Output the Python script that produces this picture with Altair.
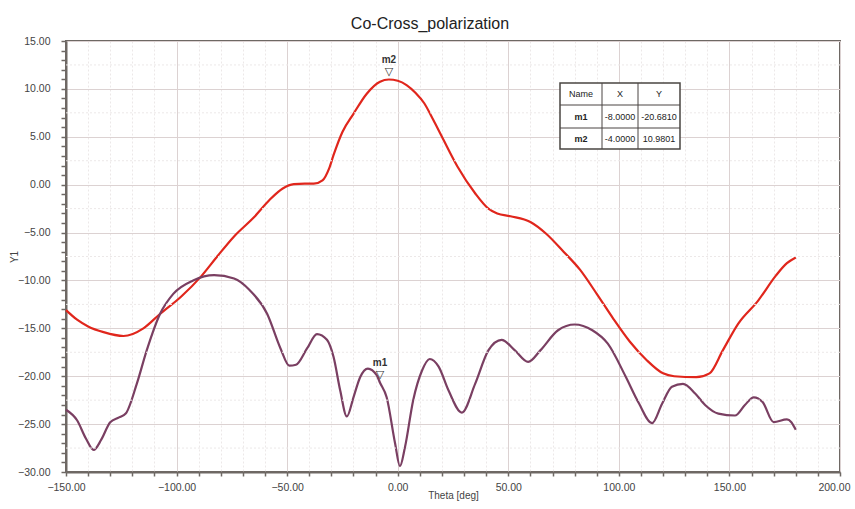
import altair as alt
import pandas as pd

# ---------------- data ----------------
theta_co = [-150, -145, -140, -133, -124, -115, -107.5, -98, -89, -82, -74, -65, -58, -52,
            -47, -42, -38, -34, -31, -29, -25, -20, -14, -8, -4, 0, 4, 8, 12, 16, 20, 27,
            35, 41, 45, 51, 60, 67, 75, 82.5, 90, 97.5, 105, 112.5, 120, 125, 135, 141,
            147, 154, 163, 171, 176, 180]
co_pol = [-13.1, -14.1, -14.8, -15.4, -15.8, -15.0, -13.5, -11.7, -9.6, -7.6, -5.4, -3.4,
          -1.6, -0.4, 0.05, 0.1, 0.1, 0.45, 1.7, 3.1, 5.5, 7.4, 9.5, 10.75, 10.98, 10.85,
          10.4, 9.6, 8.5, 6.8, 5.0, 1.9, -0.9, -2.5, -3.0, -3.3, -3.9, -5.1, -7.0, -8.9,
          -11.4, -14.0, -16.4, -18.3, -19.7, -20.0, -20.1, -19.7, -17.3, -14.5, -12.1,
          -9.5, -8.2, -7.6]

theta_cross = [-150, -145, -141, -137.5, -134, -130, -126, -123, -118, -113.5, -107.5,
               -101.5, -92.5, -83, -74, -67, -59, -53, -49, -46, -41, -36.5, -32, -29,
               -26, -23, -20, -17, -13.5, -9.5, -8, -5, -1.2, 1, 3.3, 7, 11, 14.5, 18.5,
               23, 29, 35, 41, 47, 53, 59, 64.5, 72.5, 80, 88, 95, 103, 109, 115, 119.5,
               124, 129, 134.5, 139, 145, 152.5, 157, 161, 165, 170, 176, 178, 180]
cross_pol = [-23.5, -24.6, -26.5, -27.7, -26.6, -24.8, -24.3, -23.9, -20.8, -17.3, -13.5,
             -11.4, -10.0, -9.45, -9.8, -11.0, -13.5, -17.1, -18.9, -18.8, -17.1, -15.6,
             -16.2, -18.0, -21.5, -24.2, -22.2, -20.1, -19.2, -19.9, -20.68, -22.2, -27.0,
             -29.4, -27.4, -22.5, -19.4, -18.2, -19.0, -21.5, -23.8, -20.8, -17.3, -16.2,
             -17.3, -18.5, -17.3, -15.2, -14.6, -15.2, -16.6, -20.0, -22.8, -24.9, -22.9,
             -21.1, -20.8, -21.8, -23.0, -23.9, -24.1, -23.0, -22.2, -22.7, -24.8, -24.5,
             -24.8, -25.6]

marker_names = ["m1", "m2"]
marker_x = [-8.0, -4.0]
marker_y = [-20.6810, 10.9801]

chart_title = "Co-Cross_polarization"
x_ticks = list(range(-150, 201, 10))
y_ticks = list(range(-30, 16, 1))
y_minor_grid = [v * 2.5 for v in range(-12, 7) if (v * 2.5) % 5 != 0]

FONT = "Liberation Sans, Arial, sans-serif"
W, H = 774, 431

xscale = alt.Scale(domain=[-150, 200], nice=False, zero=False)
yscale = alt.Scale(domain=[-30, 15], nice=False, zero=False)

curves = pd.concat([
    pd.DataFrame({"theta": theta_co, "val": co_pol, "series": "co"}),
    pd.DataFrame({"theta": theta_cross, "val": cross_pol, "series": "cross"}),
])

x_axis = alt.Axis(
    values=x_ticks,
    labelExpr="datum.value % 50 === 0 ? format(datum.value, '.2f') : ''",
    labelOffset={"condition": {"test": "datum.value === 200", "value": -6}, "value": 0},
    gridColor={"condition": {"test": "datum.value % 50 === 0", "value": "#dcd2d2"},
               "value": "#ece8e8"},
    gridDash={"condition": {"test": "datum.value % 50 === 0", "value": []},
              "value": [2, 2]},
    gridWidth=1,
    domainColor="#6e6864", domainWidth=2,
    tickColor="#6e6864", tickSize=4, tickWidth=1.5,
    labelFont=FONT, labelFontSize=10.5, labelColor="#444444", labelPadding=6,
    labelOverlap=False, labelFlush=False,
    title="Theta [deg]", titleFont=FONT, titleFontSize=10, titleFontWeight="normal",
    titleColor="#444444", titleX=387, titleY=23, titleBaseline="middle",
)
y_axis = alt.Axis(
    values=y_ticks,
    labelExpr="datum.value % 5 === 0 ? format(datum.value, '.2f') : ''",
    gridOpacity={"condition": {"test": "datum.value % 5 === 0", "value": 1}, "value": 0},
    gridColor="#dcd2d2", gridWidth=1,
    domainColor="#6e6864", domainWidth=2,
    tickColor="#6e6864", tickSize=5, tickWidth=1.5,
    labelFont=FONT, labelFontSize=10.5, labelColor="#444444", labelPadding=11,
    labelOverlap=False, labelFlush=False,
    title="Y1", titleFont=FONT, titleFontSize=10, titleFontWeight="normal",
    titleColor="#444444", titleX=-52, titleY=H / 2, titleAngle=-90,
    titleBaseline="middle", titleAlign="center",
)

X = alt.X("theta:Q", scale=xscale, axis=x_axis)
Y = alt.Y("val:Q", scale=yscale, axis=y_axis)

lines = alt.Chart(curves).mark_line(strokeWidth=2.2, interpolate="monotone").encode(
    x=X, y=Y,
    color=alt.Color("series:N", scale=alt.Scale(domain=["co", "cross"],
                                                range=["#e0261c", "#7a3f62"]),
                    legend=None),
    detail="series:N",
)

minor_grid = alt.Chart(pd.DataFrame({"val": y_minor_grid})).mark_rule(
    color="#ece8e8", strokeDash=[2, 2], strokeWidth=1
).encode(y=Y)

markers = pd.DataFrame({"name": marker_names, "theta": marker_x, "val": marker_y})
tri = alt.Chart(markers).mark_text(
    text="\u25BD", font="DejaVu Sans", fontSize=11, dy=-8, color="#333333"
).encode(x=X, y=Y)
lab = alt.Chart(markers).mark_text(
    font=FONT, fontSize=10, fontWeight="bold", dy=-20, color="#333333"
).encode(x=X, y=Y, text="name:N")

# ---------------- marker table ----------------
table_rows = [["Name", "X", "Y"]] + [
    [n, f"{x:.4f}", f"{y:.4f}"] for n, x, y in zip(marker_names, marker_x, marker_y)
]
col_edges = [494, 536, 572, 614]
row_edges = [42, 64, 87, 108]
cells = []
for r, row in enumerate(table_rows):
    for c, txt in enumerate(row):
        cells.append({
            "txt": txt,
            "px": (col_edges[c] + col_edges[c + 1]) / 2,
            "py": (row_edges[r] + row_edges[r + 1]) / 2,
            "w": "bold" if (c == 0 and r > 0) else "normal",
        })
cells = pd.DataFrame(cells)
one = pd.DataFrame({"a": [0]})

box = alt.Chart(one).mark_rect(fill="white", stroke="#4a4542", strokeWidth=1.5).encode(
    x=alt.value(col_edges[0]), x2=alt.value(col_edges[-1]),
    y=alt.value(row_edges[0]), y2=alt.value(row_edges[-1]))
vrules = alt.Chart(pd.DataFrame({"px": col_edges[1:-1]})).mark_rule(
    color="#4a4542", strokeWidth=1).encode(
    x=alt.X("px:Q", scale=None, axis=None),
    y=alt.value(row_edges[0]), y2=alt.value(row_edges[-1]))
hrules = alt.Chart(pd.DataFrame({"py": row_edges[1:-1]})).mark_rule(
    color="#4a4542", strokeWidth=1).encode(
    y=alt.Y("py:Q", scale=None, axis=None),
    x=alt.value(col_edges[0]), x2=alt.value(col_edges[-1]))
ctext_n = alt.Chart(cells[cells.w == "normal"]).mark_text(
    font=FONT, fontSize=9, color="#222222", baseline="middle").encode(
    x=alt.X("px:Q", scale=None, axis=None), y=alt.Y("py:Q", scale=None, axis=None), text="txt:N")
ctext_b = alt.Chart(cells[cells.w == "bold"]).mark_text(
    font=FONT, fontSize=9, fontWeight="bold", color="#222222", baseline="middle").encode(
    x=alt.X("px:Q", scale=None, axis=None), y=alt.Y("py:Q", scale=None, axis=None), text="txt:N")

title = alt.Chart(pd.DataFrame({"t": [chart_title]})).mark_text(
    font=FONT, fontSize=16, color="#222222", baseline="alphabetic", align="center"
).encode(x=alt.value(364), y=alt.value(-12), text="t:N")

chart = alt.layer(
    lines, minor_grid, tri, lab, box, vrules, hrules, ctext_n, ctext_b, title
).properties(
    width=W, height=H,
    autosize=alt.AutoSizeParams(type="none"),
    padding={"left": 66, "top": 41, "right": 15, "bottom": 37},
    background="white",
).configure_view(stroke="#6e6864", strokeWidth=2)

chart.save("out.html", embed_options={"renderer": "svg", "actions": False})
